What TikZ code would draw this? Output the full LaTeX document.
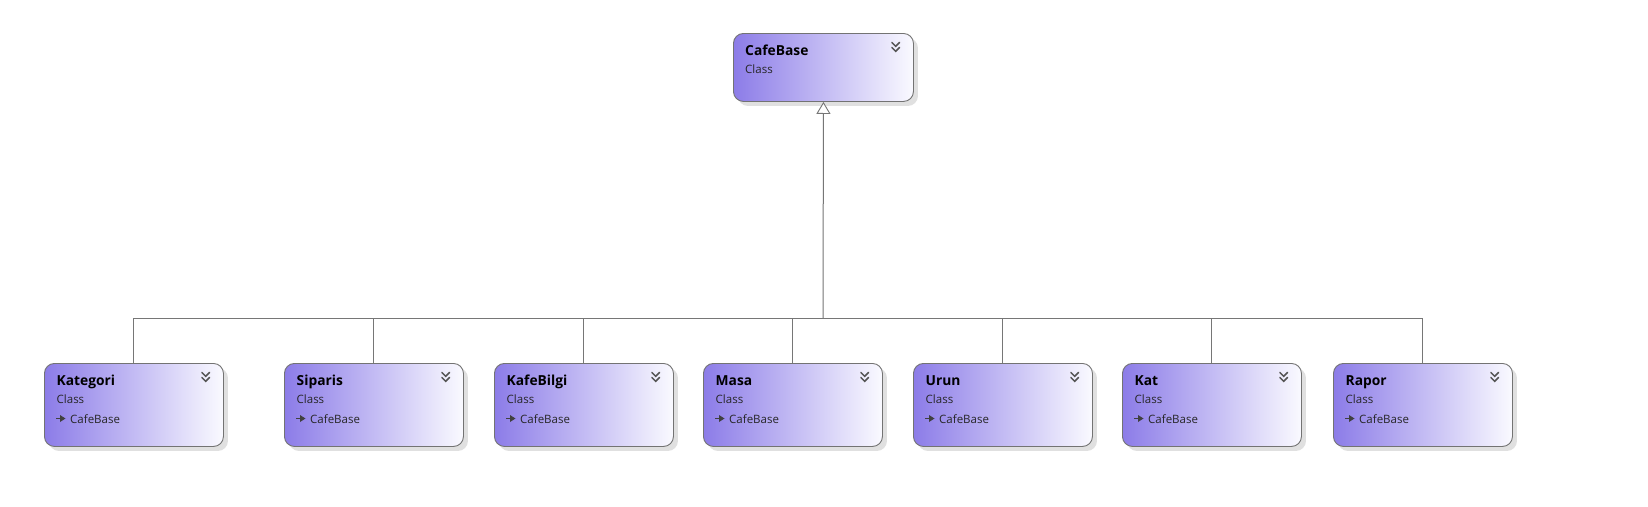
\documentclass[tikz,border=0pt]{standalone}
\usepackage{fontspec}
\setmainfont{Open Sans}
\usetikzlibrary{arrows.meta,shadows}
\definecolor{boxleft}{RGB}{140,124,232}
\definecolor{boxright}{RGB}{250,250,255}
\definecolor{edgegray}{RGB}{115,115,115}
\definecolor{linegray}{RGB}{118,118,118}
\definecolor{chevgray}{RGB}{85,85,85}
\tikzset{
  classbox/.style={rectangle, rounded corners=10pt, draw=edgegray, line width=0.9pt,
    left color=boxleft, right color=boxright, minimum width=179pt,
    anchor=north west, inner sep=0pt,
    drop shadow={shadow xshift=4.5pt, shadow yshift=-4.5pt, fill=black!12, opacity=1}},
  childbox/.style={classbox, minimum height=83pt},
  basebox/.style={classbox, minimum height=68pt, minimum width=180pt},
  titletext/.style={anchor=base west, inner sep=0pt, font=\fontsize{13.8}{16}\selectfont\bfseries, text=black},
  kindtext/.style={anchor=base west, inner sep=0pt, font=\fontsize{11.5}{14}\selectfont, text=black!85},
  chev/.style={draw=chevgray, line width=1.5pt, line cap=round, line join=miter},
  conn/.style={draw=linegray, line width=1pt},
}
\newcommand{\chevronsat}[1]{%
  \draw[chev] ([xshift=-22pt,yshift=-9.5pt]#1.north east) -- ++(3.8pt,-3.8pt) -- ++(3.8pt,3.8pt);
  \draw[chev] ([xshift=-22pt,yshift=-14.5pt]#1.north east) -- ++(3.8pt,-3.8pt) -- ++(3.8pt,3.8pt);
}
\newcommand{\childclass}[4]{% name, x, y, title
  \node[childbox] (#1) at (#2,#3) {};
  \node[titletext] (#1-title) at ([xshift=12.5pt,yshift=-22pt]#1.north west) {#4};
  \node[kindtext] (#1-kind) at ([xshift=12.5pt,yshift=-40pt]#1.north west) {Class};
  \coordinate (#1-icon) at ([xshift=12pt,yshift=-55.5pt]#1.north west);
  \draw[black!75, line width=1.6pt] (#1-icon) -- ++(5pt,0);
  \fill[black!75] ([xshift=4pt,yshift=3.5pt]#1-icon) -- ++(5.5pt,-3.5pt) -- ++(-5.5pt,-3.5pt) -- cycle;
  \node[kindtext] (#1-base) at ([xshift=26pt,yshift=-60pt]#1.north west) {CafeBase};
  \chevronsat{#1}
}
\begin{document}
\begin{tikzpicture}[x=1pt,y=-1pt]
\useasboundingbox[fill=white] (0,0) rectangle (1648,506);
% base class
\node[basebox] (cafebase) at (733,33) {};
\node[titletext] (cafebase-title) at ([xshift=12pt,yshift=-22pt]cafebase.north west) {CafeBase};
\node[kindtext] (cafebase-kind) at ([xshift=12pt,yshift=-40pt]cafebase.north west) {Class};
\chevronsat{cafebase}
% children
\childclass{kategori}{44}{363}{Kategori}
\childclass{siparis}{284}{363}{Siparis}
\childclass{kafebilgi}{494}{363}{KafeBilgi}
\childclass{masa}{703}{363}{Masa}
\childclass{urun}{913}{363}{Urun}
\childclass{kat}{1122}{363}{Kat}
\childclass{rapor}{1333}{363}{Rapor}
% connectors
\coordinate (hub) at (823,318);
\foreach \n in {kategori,siparis,kafebilgi,masa,urun,kat,rapor}
  \draw[conn] (\n.north) |- (hub);
\draw[conn, -{Triangle[length=12pt,width=14pt,fill=white,line width=0.9pt]}] (hub) -- (cafebase.south);
\end{tikzpicture}
\end{document}
